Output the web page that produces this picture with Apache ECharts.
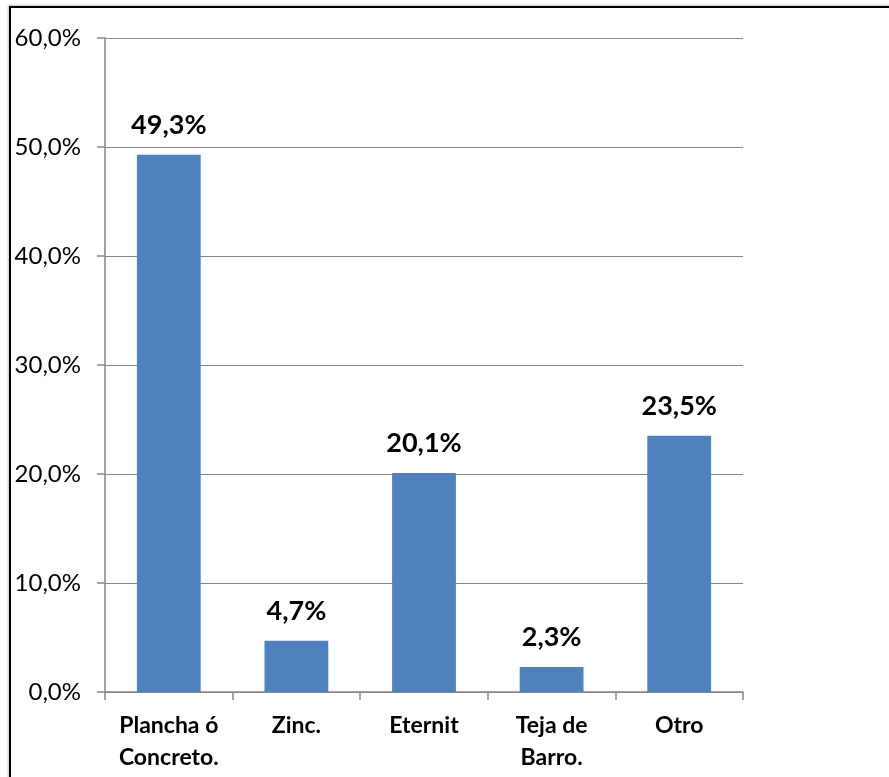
<!DOCTYPE html>
<html>
<head>
<meta charset="utf-8">
<script src="https://cdn.jsdelivr.net/npm/echarts@6/dist/echarts.min.js"></script>
<style>
  html, body { margin: 0; padding: 0; background: #fff; }
  #frame {
    position: absolute; left: 9px; top: 6px; width: 900px; height: 800px;
    border-left: 2px solid #000; border-top: 2px solid #000;
    box-shadow: -1px -1px 2px rgba(0,0,0,0.25);
  }
  #chart { position: absolute; left: 0; top: 0; width: 889px; height: 777px; }
</style>
</head>
<body>
<div id="frame"></div>
<div id="chart"></div>
<script>
// categorias y valores (%)
const categories = ['Plancha ó\nConcreto.', 'Zinc.', 'Eternit', 'Teja de\nBarro.', 'Otro']
const values = [49.3, 4.7, 20.1, 2.3, 23.5]

const fmt = v => v.toFixed(1).replace('.', ',') + '%'
const axisGray = '#868686'
const font = 'Lato'

const chart = echarts.init(document.getElementById('chart'))
chart.setOption({
  animation: false,
  grid: { left: 105, right: 146, top: 38, bottom: 85 },
  xAxis: {
    type: 'category',
    data: categories,
    axisLine: { lineStyle: { color: axisGray, width: 1.5 } },
    axisTick: { show: true, length: 8, lineStyle: { color: axisGray, width: 1.5 } },
    axisLabel: {
      color: '#000', fontFamily: font, fontWeight: 'bold', fontSize: 23,
      lineHeight: 32, margin: 18, interval: 0
    }
  },
  yAxis: {
    type: 'value',
    min: 0, max: 60, interval: 10,
    axisLine: { show: true, lineStyle: { color: axisGray, width: 1.5 } },
    axisTick: { show: true, length: 8, lineStyle: { color: axisGray, width: 1.5 } },
    splitLine: { lineStyle: { color: axisGray, width: 1 } },
    axisLabel: {
      color: '#000', fontFamily: font, fontSize: 24, margin: 24,
      formatter: fmt
    }
  },
  series: [{
    type: 'bar',
    data: values,
    barWidth: '50%',
    itemStyle: { color: '#4F81BD' },
    label: {
      show: true, position: 'top', distance: 16,
      color: '#000', fontFamily: font, fontWeight: 'bold', fontSize: 27,
      formatter: p => fmt(p.value)
    }
  }]
})
</script>
</body>
</html>
